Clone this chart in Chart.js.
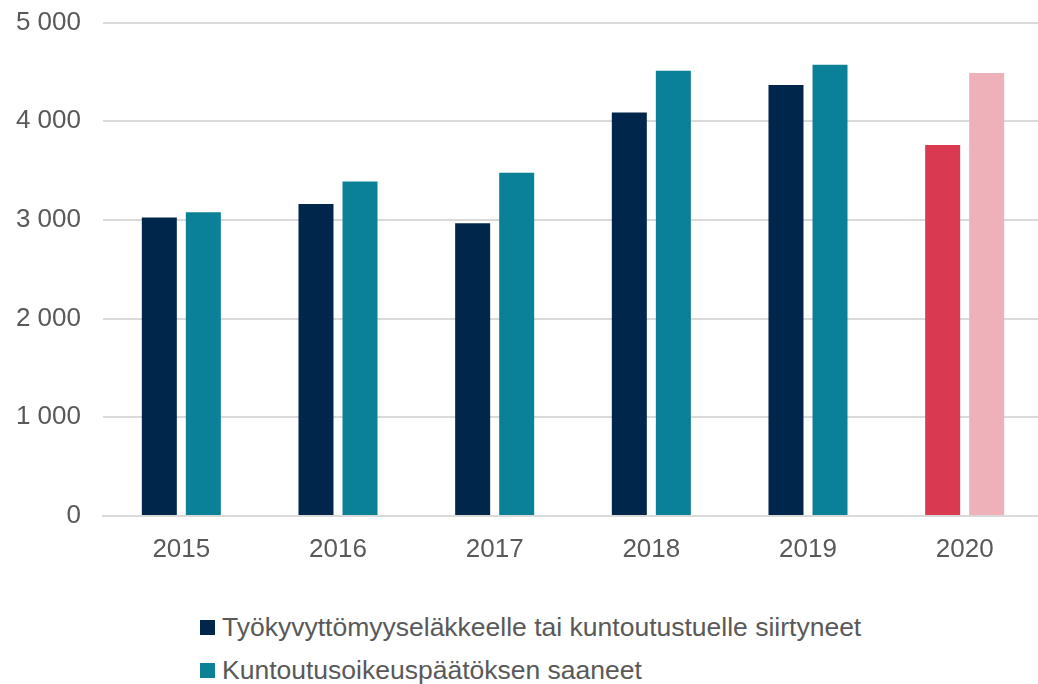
<!DOCTYPE html>
<html>
<head>
<meta charset="utf-8">
<script src="https://cdn.jsdelivr.net/npm/chart.js@4/dist/chart.umd.min.js"></script>
<style>
  body { margin: 0; background: #fff; width: 1038px; height: 684px; overflow: hidden; position: relative; font-family: "Liberation Sans", Arial, sans-serif; }
  #wrap { position: absolute; left: 0; top: -15px; width: 1043px; height: 599px; }
  #legend { position: absolute; left: 200px; top: 606px; }
  .item { display: flex; align-items: center; height: 43px; font-size: 26.5px; color: #595959; }
  .box { width: 15px; height: 15px; margin-right: 7px; }
</style>
</head>
<body>
<div id="wrap"><canvas id="chart"></canvas></div>
<div id="legend"></div>
<script>
let years = ["2015", "2016", "2017", "2018", "2019", "2020"];
let pensionLabel = "Työkyvyttömyyseläkkeelle tai kuntoutustuelle siirtyneet";
let rehabLabel = "Kuntoutusoikeuspäätöksen saaneet";
let pension = [3026, 3161, 2966, 4090, 4367, 3759];
let rehab = [3077, 3391, 3478, 4512, 4573, 4488];
let yTicks = [0, 1000, 2000, 3000, 4000, 5000];

let navy = "#00264B", teal = "#0A8196";
let pensionColors = years.map(y => y === "2020" ? "#D93A52" : navy);
let rehabColors = years.map(y => y === "2020" ? "#EEB1B9" : teal);

function fmt(v) { return String(v).replace(/\B(?=(\d{3})+(?!\d))/g, " "); }

new Chart(document.getElementById("chart"), {
  type: 'bar',
  data: {
    labels: years,
    datasets: [
      { label: pensionLabel, data: pension, backgroundColor: pensionColors },
      { label: rehabLabel, data: rehab, backgroundColor: rehabColors }
    ]
  },
  options: {
    responsive: true,
    maintainAspectRatio: false,
    animation: false,
    datasets: { bar: { barPercentage: 0.795, categoryPercentage: 0.562 } },
    layout: { padding: { top: 8, right: 0, left: 0, bottom: 0 } },
    plugins: { legend: { display: false }, tooltip: { enabled: false } },
    scales: {
      x: {
        afterFit: s => { s.height = 68; },
        grid: { display: false, drawTicks: false },
        border: { color: "#d9d9d9", width: 2 },
        ticks: { color: "#595959", font: { family: "Liberation Sans", size: 26 }, padding: 18 }
      },
      y: {
        min: 0, max: 5000,
        afterFit: s => { s.width = 103; },
        afterBuildTicks: s => { s.ticks = yTicks.map(v => ({ value: v })); },
        grid: { color: "#d9d9d9", lineWidth: 2, drawTicks: false },
        border: { display: false },
        ticks: { color: "#595959", font: { family: "Liberation Sans", size: 26 }, padding: 22, callback: v => fmt(v) }
      }
    }
  }
});

let legend = document.getElementById("legend");
[[pensionLabel, navy], [rehabLabel, teal]].forEach(([t, c]) => {
  let d = document.createElement("div");
  d.className = "item";
  d.innerHTML = '<span class="box" style="background:' + c + '"></span><span>' + t + '</span>';
  legend.appendChild(d);
});
</script>
</body>
</html>
